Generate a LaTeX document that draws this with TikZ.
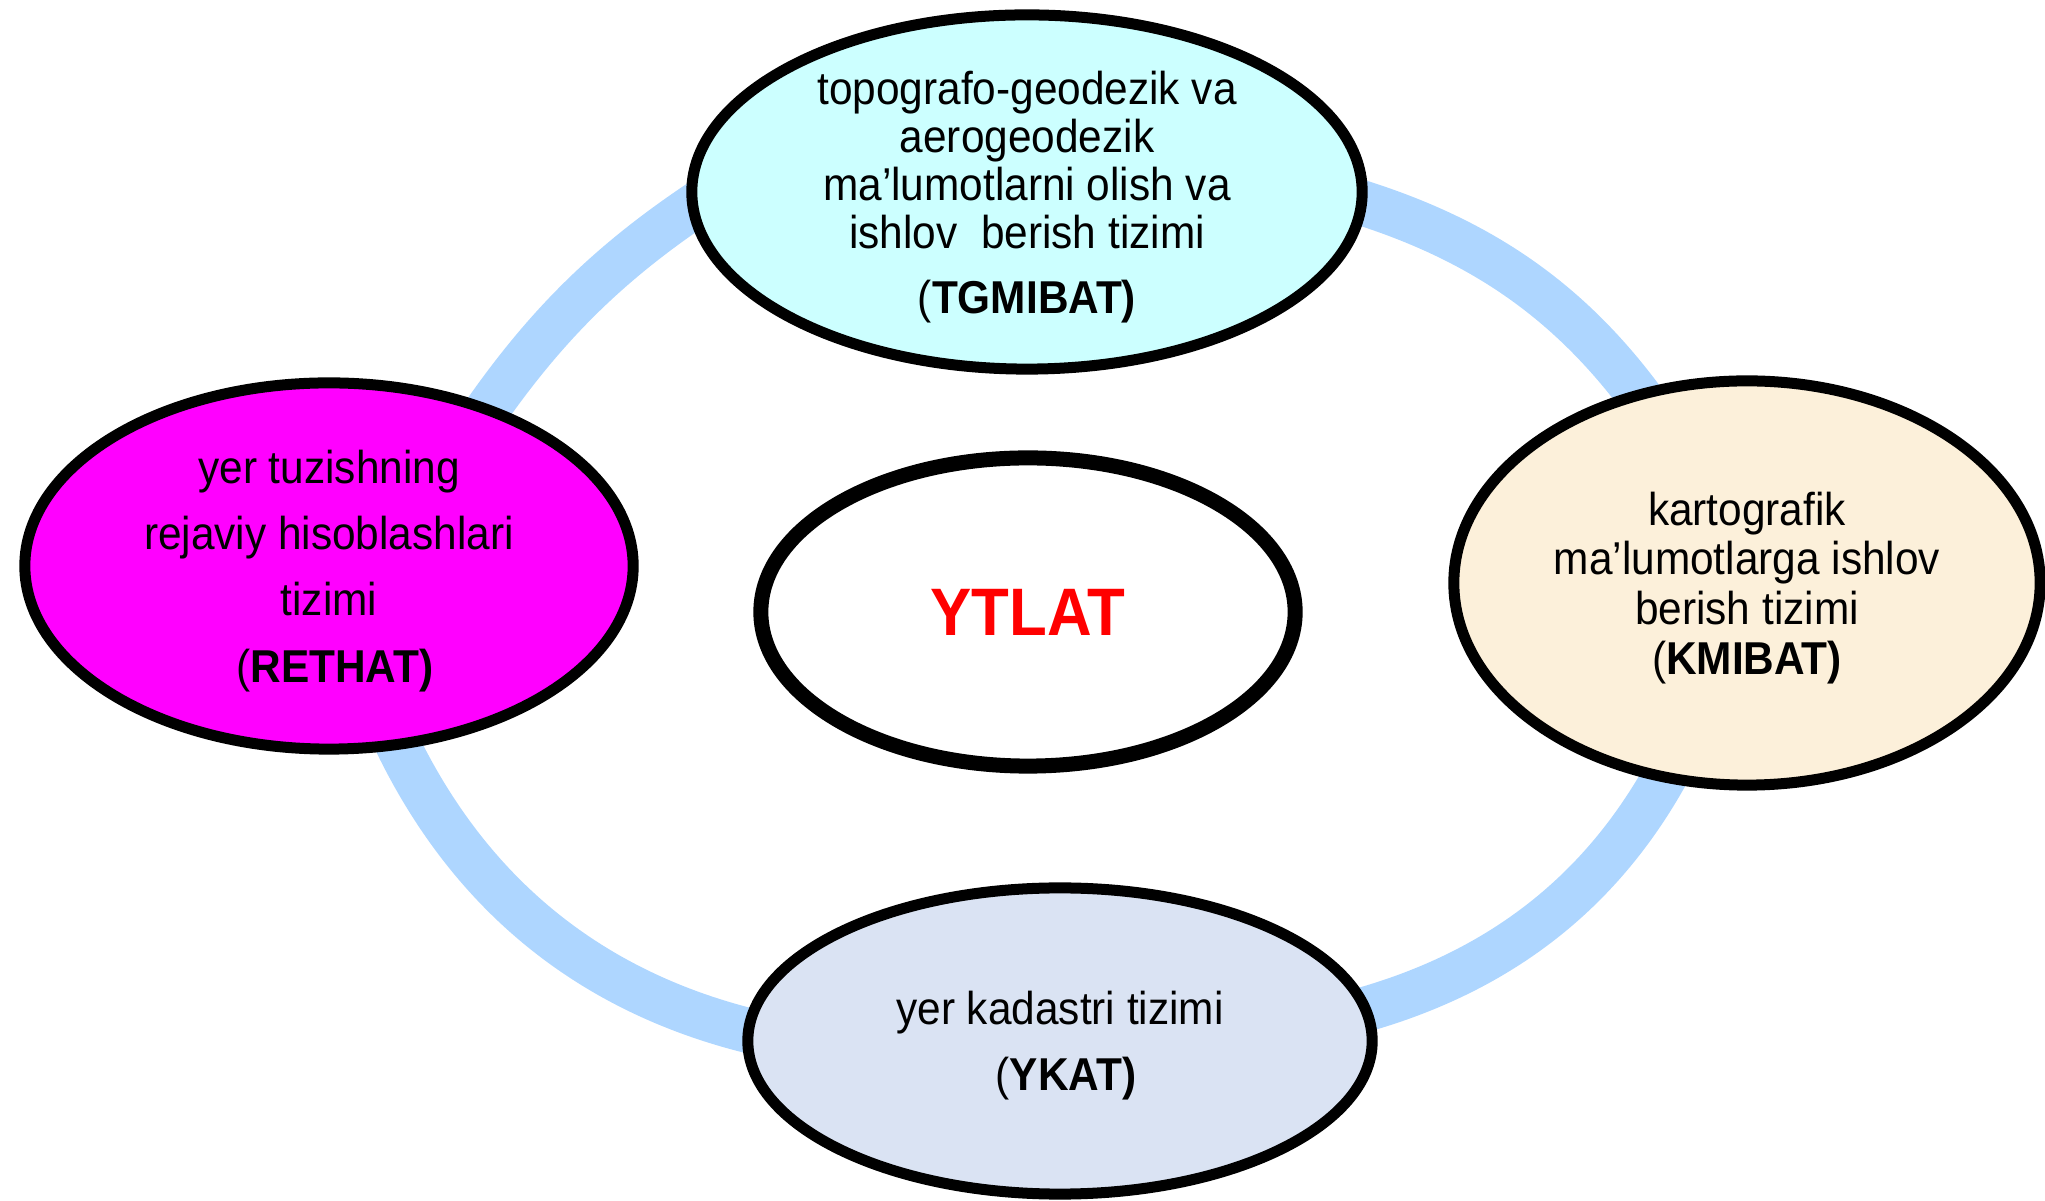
\documentclass[tikz,border=0pt]{standalone}
\usepackage{fontspec}
\setmainfont{Liberation Sans}[FakeStretch=0.92]
\usetikzlibrary{shapes.geometric,backgrounds}
\usepackage{xcolor}
\definecolor{ringBlue}{RGB}{174,214,255}
\definecolor{cyanFill}{RGB}{204,255,255}
\definecolor{magentaFill}{RGB}{255,0,255}
\definecolor{creamFill}{RGB}{252,240,218}
\definecolor{greyBlueFill}{RGB}{218,227,243}

\begin{document}
\begin{tikzpicture}[
  x=0.01cm,y=-0.01cm,
  every node/.style={align=center},
  ring/.style={draw=ringBlue,line width=0.45cm,shorten <=-0.3cm,shorten >=-0.3cm},
  system/.style={draw,ellipse,line width=0.11cm,inner sep=0pt},
  core/.style={draw,ellipse,line width=0.15cm,fill=white,inner sep=0pt},
  narrowText/.style={font=\fontsize{13.1}{13.7}\selectfont,yshift=-0.05cm},
  wideText/.style={font=\fontsize{13.1}{18.8}\selectfont,yshift=-0.05cm},
  title/.style={font=\fontsize{19.1}{22}\selectfont\bfseries,text=red}]

  \useasboundingbox (0,0) rectangle (2045,1201);

  % the systems
  \node[system,fill=cyanFill,minimum width=6.70cm,minimum height=3.54cm] (tgmibat) at (1027,192) {};
  \node[system,fill=magentaFill,minimum width=6.08cm,minimum height=3.66cm] (rethat) at (329,566) {};
  \node[system,fill=creamFill,minimum width=5.86cm,minimum height=4.04cm] (kmibat) at (1747,583) {};
  \node[system,fill=greyBlueFill,minimum width=6.24cm,minimum height=3.06cm] (ykat) at (1060,1041) {};
  \node[core,minimum width=5.34cm,minimum height=3.08cm] (ytlat) at (1028,612) {};

  % the ring joining them, behind the systems
  \begin{scope}[on background layer]
    \draw [ring] (rethat.45) .. controls +(56:0.94cm) and +(213:0.94cm) .. (tgmibat.183);
    \draw [ring] (tgmibat.-2) .. controls +(-16:1.12cm) and +(125:1.12cm) .. (kmibat.120);
    \draw [ring] (kmibat.247) .. controls +(243:1.26cm) and +(14:1.26cm) .. (ykat.6);
    \draw [ring] (ykat.178) .. controls +(168:1.55cm) and +(294:1.55cm) .. (rethat.291);
  \end{scope}

  % their texts
  \node[narrowText] (tgmibatText) at (tgmibat.center)
    {topografo-geodezik va\\ aerogeodezik\\ ma’lumotlarni olish va\\ ishlov\ \ berish tizimi\\[4.8pt] (\textbf{TGMIBAT)}};
  \node[wideText] (rethatText) at (rethat.center)
    {yer tuzishning\\ rejaviy hisoblashlari\\ tizimi\\ \ (\textbf{RETHAT)}};
  \node[narrowText,font=\fontsize{13.1}{14.2}\selectfont] (kmibatText) at (kmibat.center)
    {kartografik\\ ma’lumotlarga ishlov\\ berish tizimi\\ (\textbf{KMIBAT)}};
  \node[wideText] (ykatText) at (ykat.center)
    {yer kadastri tizimi\\ \ (\textbf{YKAT)}};
  \node[title] (ytlatText) at (ytlat.center) {YTLAT};

\end{tikzpicture}
\end{document}
